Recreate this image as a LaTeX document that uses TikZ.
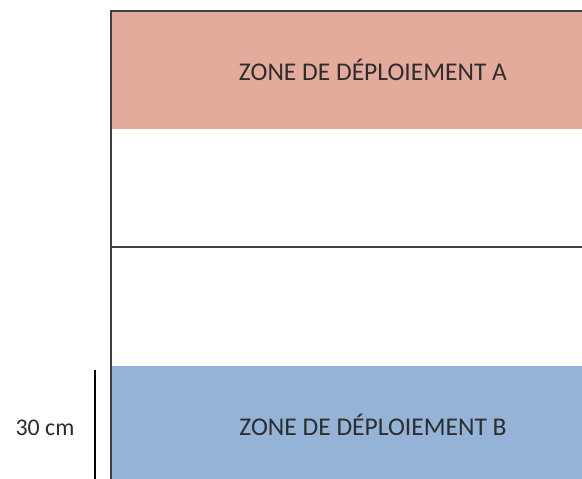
\documentclass[tikz,border=0pt]{standalone}
\usepackage{fontspec}
\setmainfont{Carlito}
\usepackage{tikz}

\definecolor{zonered}{RGB}{228,171,157}
\definecolor{zoneblue}{RGB}{149,179,215}
\definecolor{edgegray}{RGB}{64,64,64}
\definecolor{textgray}{RGB}{45,45,45}

\tikzset{
  zone/.style={minimum width=522bp, minimum height=118bp, inner sep=0pt, text=textgray, font=\fontsize{25.6}{30}\selectfont},
  border/.style={draw=edgegray, line width=1.6bp},
  ruler/.style={draw=black, line width=2.6bp}
}

\begin{document}
\begin{tikzpicture}[x=1bp,y=1bp]
\useasboundingbox (0,0) rectangle (582,479);


%the two deployment zones
\node [zone, fill=zonered] (zoneA) at (373,409) {ZONE DE DÉPLOIEMENT A}; %top zone
\node [zone, fill=zoneblue] (zoneB) at (373,54) {ZONE DE DÉPLOIEMENT B}; %bottom zone


%outline of the table
\draw [border] (111,-10)--(111,468)--(640,468); %left side + top side
\draw [border] (111,232)--(640,232); %middle line


%ruler for the depth of the zone
\coordinate (rulertop) at (95,109);
\coordinate (rulerbot) at (95,-10);
\draw [ruler] (rulertop)--(rulerbot);
\node [text=textgray, font=\fontsize{24}{28}\selectfont] (depth) at (45,51) {30 cm};


\end{tikzpicture}
\end{document}
